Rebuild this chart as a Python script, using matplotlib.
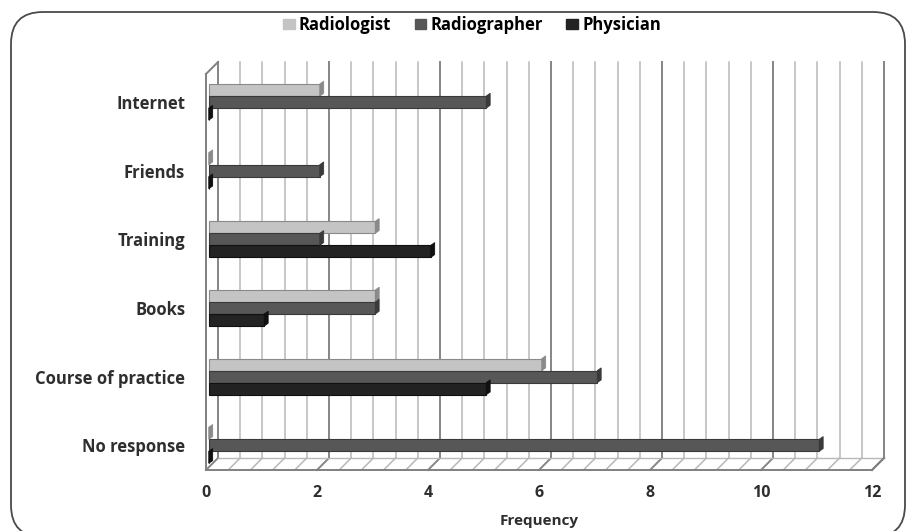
import numpy as np
import matplotlib
matplotlib.use("Agg")
import matplotlib.pyplot as plt
from matplotlib.patches import Patch, Polygon, FancyBboxPatch

plt.rcParams['font.family'] = ['Open Sans', 'DejaVu Sans']

# data
categories = ["Internet", "Friends", "Training", "Books", "Course of practice", "No response"]
series = ["Radiologist", "Radiographer", "Physician"]
radiologist = [2, 0, 3, 3, 6, 0]
radiographer = [5, 2, 2, 3, 7, 11]
physician = [0, 0, 4, 1, 5, 0]
xticks = [0, 2, 4, 6, 8, 10, 12]

colors = ["#c4c4c4", "#575757", "#232323"]
edge = ["#8a8a8a", "#3a3a3a", "#101010"]
txt = "#2e2e2e"

W, H = 911, 531
fig = plt.figure(figsize=(W / 100, H / 100), dpi=100)

# outer rounded frame (runs off the bottom edge)
frame = FancyBboxPatch((11 / W, -6 / H), 894 / W, 525 / H,
                       boxstyle="round,pad=0,rounding_size=0.035",
                       transform=fig.transFigure, fill=False,
                       edgecolor="#4a4a4a", lw=1.3, mutation_aspect=W / H)
fig.patches.append(frame)

# axes: x 0..12 -> px 206..872 ; y rows with Internet at top
ax = fig.add_axes([206 / W, (H - 470) / H, 666 / W, 408 / H])
ymin, ymax = -0.583, 5.36
ax.set_xlim(0, 12)
ax.set_ylim(ymax, ymin)
for s in ax.spines.values():
    s.set_visible(False)
ax.patch.set_alpha(0)

dx = 12 / 55.5          # depth offset in x units
dy = 12 / 68.6          # depth offset in y units
floor_back = ymax - dy

# back wall grid + floor diagonals
minor = np.arange(0, 12.001, 0.4)
for v in minor:
    major = abs(v / 2 - round(v / 2)) < 1e-6
    c = "#858585" if major else "#b8b8b8"
    lw = 1.4 if major else 1.1
    ax.plot([v + dx, v + dx], [floor_back, ymin], color=c, lw=lw, zorder=1, clip_on=False)
    ax.plot([v, v + dx], [ymax, floor_back], color=c, lw=lw, zorder=1, clip_on=False)

# floor edges and left wall
ax.plot([0, 12], [ymax, ymax], color="#808080", lw=1.4, zorder=2, clip_on=False)
ax.plot([dx, 12 + dx], [floor_back, floor_back], color="#b8b8b8", lw=1.0, zorder=1, clip_on=False)
ax.plot([12, 12 + dx], [ymax, floor_back], color="#808080", lw=1.4, zorder=2, clip_on=False)
ax.plot([0, 0], [ymax, ymin + dy], color="#808080", lw=1.4, zorder=2, clip_on=False)
ax.plot([0, dx], [ymin + dy, ymin], color="#808080", lw=1.4, zorder=2, clip_on=False)

# bars
y = np.arange(len(categories))
bh = 0.175
offsets = [-bh, 0, bh]
cap = 0.07
for vals, off, c, ec in zip([radiologist, radiographer, physician], offsets, colors, edge):
    yy = y + off
    ax.barh(yy, vals, height=bh, left=0.05, color=c, edgecolor=ec, lw=0.8, zorder=3)
    for yi, v in zip(yy, vals):
        x0 = v + 0.05
        ax.add_patch(Polygon([[x0, yi - bh / 2], [x0 + cap, yi - bh / 2 - 0.04],
                              [x0 + cap, yi + bh / 2 - 0.04], [x0, yi + bh / 2]],
                             closed=True, facecolor=ec, edgecolor=ec, lw=0.6, zorder=4))

ax.set_yticks(y)
ax.set_yticklabels(categories, fontsize=12, fontweight="bold", color=txt)
ax.set_xticks(xticks)
ax.set_xticklabels([str(t) for t in xticks], fontsize=11.5, fontweight="bold", color=txt)
ax.tick_params(axis="y", length=0, pad=15)
ax.tick_params(axis="x", length=0, pad=11)
ax.set_xlabel("Frequency", fontsize=11, fontweight="bold", color=txt, labelpad=9)

handles = [Patch(facecolor=c, edgecolor=c) for c in colors]
fig.legend(handles, series, loc="center", bbox_to_anchor=(472 / W, 1 - 25 / H), ncol=3,
           frameon=False, handlelength=0.7, handleheight=0.6, handletextpad=0.25,
           columnspacing=1.4, prop={"weight": "bold", "size": 12})

fig.savefig("out.png", dpi=100)
